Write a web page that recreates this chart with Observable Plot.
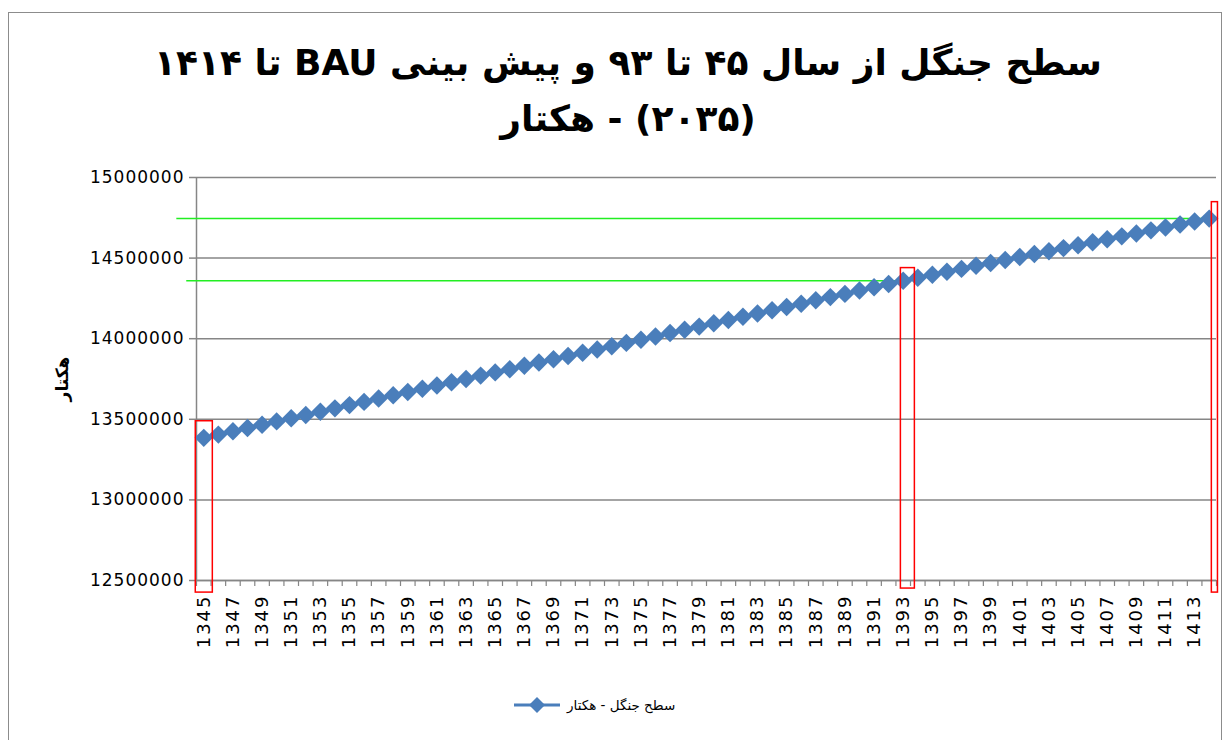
<!DOCTYPE html>
<html><head><meta charset="utf-8">
<script src="https://cdn.jsdelivr.net/npm/d3@7"></script>
<script src="https://cdn.jsdelivr.net/npm/@observablehq/plot@0.6"></script>
<style>
body{margin:0;background:#fff;}
#wrap{position:relative;width:1224px;height:740px;overflow:hidden;font-family:"DejaVu Sans",sans-serif;background:#fff;}
#frame{position:absolute;left:8px;top:12px;width:1214px;height:780px;border:1.5px solid #8c8c8c;box-sizing:border-box;}
.t{position:absolute;left:0;width:1256px;text-align:center;direction:rtl;font-weight:bold;font-size:36px;white-space:nowrap;font-family:"DejaVu Sans",sans-serif;}
#chart{position:absolute;left:0;top:160px;}
#chart g[aria-label="y-axis tick label"] text{letter-spacing:1px;}
#chart g[aria-label="x-axis tick label"] text{letter-spacing:2px;}
#legend{position:absolute;left:512px;top:695px;display:flex;align-items:center;gap:5px;font-size:13.5px;}
</style>
</head><body>
<div id="wrap">
  <div id="frame"></div>
  <div class="t" id="t1" style="top:42px">سطح جنگل از سال ۴۵ تا ۹۳ و پیش بینی BAU تا ۱۴۱۴</div>
  <div class="t" id="t2" style="top:98px">(۲۰۳۵) - هکتار</div>
  <div id="chart"></div>
  <div id="legend"><svg width="50" height="20"><line x1="2" y1="10" x2="48" y2="10" stroke="#4a7ebb" stroke-width="3"/><path d="M25,2L33,10L25,18L17,10Z" fill="#4a7ebb"/></svg><span dir="rtl">سطح جنگل - هکتار</span></div>
</div>
<script>
// categories (years)
const years = d3.range(1345, 1415);
// forest area (hectares)
const forestArea = [
  13385000, 13405000, 13426000, 13446000, 13466000, 13487000, 13507000, 13527000, 13547000, 13568000,
  13588000, 13608000, 13629000, 13649000, 13669000, 13690000, 13710000, 13730000, 13750000, 13771000,
  13791000, 13811000, 13832000, 13852000, 13872000, 13893000, 13913000, 13933000, 13953000, 13974000,
  13994000, 14014000, 14035000, 14055000, 14075000, 14096000, 14116000, 14136000, 14156000, 14177000,
  14197000, 14217000, 14238000, 14258000, 14278000, 14299000, 14319000, 14339000, 14360000, 14378000,
  14397000, 14415000, 14433000, 14452000, 14470000, 14488000, 14507000, 14525000, 14543000, 14562000,
  14580000, 14598000, 14617000, 14635000, 14653000, 14672000, 14690000, 14708000, 14727000, 14745000
];
const yTicks = [12500000, 13000000, 13500000, 14000000, 14500000, 15000000];
const xLabelYears = d3.range(1345, 1414, 2);
// annotation lines (green) and boxes (red)
const greenValues = [14745000, 14360000];
const greenFrom = [1343.15, 1343.83];
const greenTo = [1414, 1392.8];
const boxX1 = [1344.45, 1392.84, 1414.18];
const boxX2 = [1345.62, 1393.8, 1414.6];
const boxTop = [13488000, 14438000, 14847000];
const boxBottom = [12425000, 12450000, 12425000];

const data = years.map((year, i) => ({year, value: forestArea[i]}));
const greens = greenValues.map((v, i) => ({value: v, from: greenFrom[i], to: greenTo[i]}));
const boxes = boxX1.map((x1, i) => ({x1, x2: boxX2[i], y1: boxBottom[i], y2: boxTop[i]}));
const boundaries = d3.range(1344.5, 1415, 1);

const chart = Plot.plot({
  width: 1224, height: 500,
  marginTop: 17, marginBottom: 80, marginLeft: 196, marginRight: 8,
  x: {domain: [1344.5, 1414.5], axis: null},
  y: {domain: [12500000, 15000000], axis: null},
  style: {fontFamily: "DejaVu Sans", fontSize: "17px", overflow: "visible", background: "transparent", color: "#000"},
  marks: [
    Plot.gridY(yTicks, {stroke: "#868686", strokeOpacity: 1, strokeWidth: 1.5}),
    Plot.ruleX([1344.5], {stroke: "#868686", strokeWidth: 1.5}),
    Plot.ruleY([12500000], {stroke: "#868686", strokeWidth: 1.5}),
    Plot.axisY(yTicks, {tickSize: 7, tickPadding: 5, tickFormat: d3.format("d"), stroke: "#868686", fill: "#000", strokeWidth: 1.5}),
    Plot.axisX(boundaries, {tickSize: 6, tickFormat: () => "", stroke: "#868686", strokeWidth: 1.2}),
    Plot.axisX(xLabelYears, {tickSize: 0, tickPadding: 14, tickRotate: -90, tickFormat: d => String(d), fill: "#000", fontSize: 18}),
    Plot.text(["هکتار"], {frameAnchor: "left", textAnchor: "middle", dx: -134, rotate: -90, fontWeight: "bold", fontSize: 17, fill: "#000"}),
    Plot.ruleY(greens, {y: "value", x1: "from", x2: "to", stroke: "#22ee22", strokeWidth: 1.5}),
    Plot.line(data, {x: "year", y: "value", stroke: "#4a7ebb", strokeWidth: 3}),
    Plot.dot(data, {x: "year", y: "value", symbol: "diamond2", r: 8.3, fill: "#4a7ebb", stroke: "none"}),
    Plot.rect(boxes, {x1: "x1", x2: "x2", y1: "y1", y2: "y2", stroke: "#ff0000", fill: "none", strokeWidth: 1.5})
  ]
});
document.getElementById("chart").appendChild(chart);
</script>
</body></html>
